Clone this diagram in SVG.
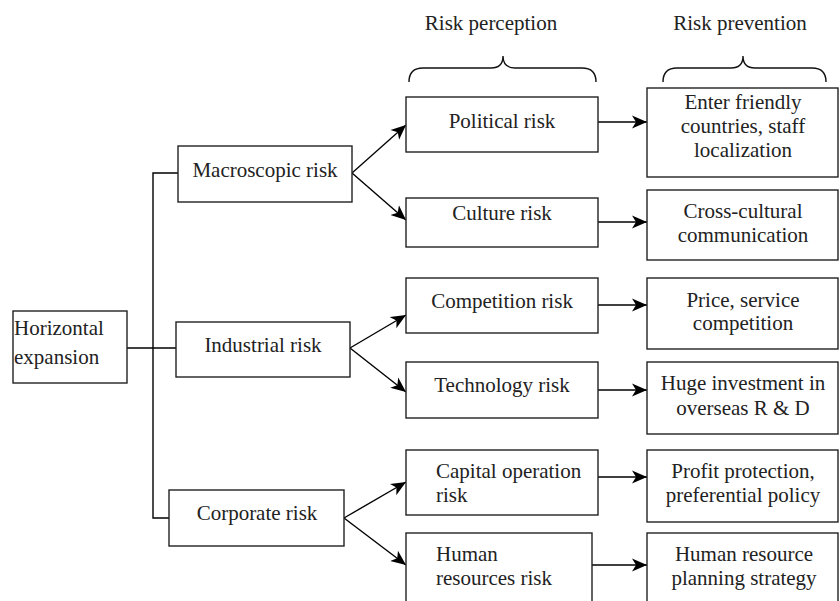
<svg xmlns="http://www.w3.org/2000/svg" width="840" height="601" viewBox="0 0 840 601">
<defs>
<style>
.box{fill:#fff;stroke:#222;stroke-width:1.4}
.t{font-family:"Liberation Serif","Times New Roman",serif;font-size:21px;fill:#222}
.c{text-anchor:middle}
.ln{fill:none;stroke:#000;stroke-width:1.4}
.br{fill:none;stroke:#111;stroke-width:1.4}
</style>
<marker id="ah" markerUnits="userSpaceOnUse" markerWidth="16" markerHeight="14" refX="15" refY="7" orient="auto">
<path d="M0,0.5 L15,7 L0,13.5 L4,7 Z" fill="#000"/>
</marker>
</defs>
<rect width="840" height="601" fill="#fff"/>
<text class="t c" x="491" y="30">Risk perception</text>
<text class="t c" x="740" y="30">Risk prevention</text>
<path class="br" d="M409,82 Q409,68 423,68 L491,68 Q503,68 503,56 Q503,68 515,68 L582,68 Q596,68 596,82"/>
<path class="br" d="M663,82 Q663,68 677,68 L731,68 Q743,68 743,56 Q743,68 755,68 L812,68 Q826,68 826,82"/>
<g id="connectors">
<path class="ln" d="M127,348 L176,348"/>
<path class="ln" d="M178,173 L153,173 L153,518 L169,518"/>
<path class="ln" d="M352,173 L406,125" marker-end="url(#ah)"/>
<path class="ln" d="M352,173 L406,220" marker-end="url(#ah)"/>
<path class="ln" d="M350,348 L406,315" marker-end="url(#ah)"/>
<path class="ln" d="M350,348 L406,392" marker-end="url(#ah)"/>
<path class="ln" d="M344,518 L406,482" marker-end="url(#ah)"/>
<path class="ln" d="M344,518 L406,565" marker-end="url(#ah)"/>
<path class="ln" d="M598,122 L647,122" marker-end="url(#ah)"/>
<path class="ln" d="M598,222 L647,222" marker-end="url(#ah)"/>
<path class="ln" d="M598,305 L647,305" marker-end="url(#ah)"/>
<path class="ln" d="M598,390 L647,390" marker-end="url(#ah)"/>
<path class="ln" d="M598,477 L647,477" marker-end="url(#ah)"/>
<path class="ln" d="M590,565 L647,565" marker-end="url(#ah)"/>
</g>
<g id="horizontal-expansion">
<rect class="box" x="13" y="311" width="114" height="72"/>
<text class="t" x="14" y="335">Horizontal</text>
<text class="t" x="14" y="364">expansion</text>
</g>
<g id="macroscopic-risk">
<rect class="box" x="178" y="146" width="174" height="56"/>
<text class="t c" x="265" y="177">Macroscopic risk</text>
</g>
<g id="industrial-risk">
<rect class="box" x="176" y="322" width="174" height="55"/>
<text class="t c" x="263" y="352">Industrial risk</text>
</g>
<g id="corporate-risk">
<rect class="box" x="169" y="490" width="175" height="56"/>
<text class="t c" x="257" y="520">Corporate risk</text>
</g>
<g id="political-risk">
<rect class="box" x="406" y="97" width="192" height="55"/>
<text class="t c" x="502" y="128">Political risk</text>
</g>
<g id="culture-risk">
<rect class="box" x="406" y="198" width="192" height="49"/>
<text class="t c" x="502" y="220">Culture risk</text>
</g>
<g id="competition-risk">
<rect class="box" x="406" y="278" width="192" height="55"/>
<text class="t c" x="502" y="308">Competition risk</text>
</g>
<g id="technology-risk">
<rect class="box" x="406" y="362" width="192" height="56"/>
<text class="t c" x="502" y="392">Technology risk</text>
</g>
<g id="capital-operation-risk">
<rect class="box" x="406" y="450" width="192" height="65"/>
<text class="t" x="436" y="478">Capital operation</text>
<text class="t" x="436" y="502">risk</text>
</g>
<g id="human-resources-risk">
<rect class="box" x="406" y="533" width="186" height="75"/>
<text class="t" x="436" y="561">Human</text>
<text class="t" x="436" y="585">resources risk</text>
</g>
<g id="enter-friendly">
<rect class="box" x="647" y="88" width="191" height="89"/>
<text class="t c" x="743" y="109">Enter friendly</text>
<text class="t c" x="743" y="133">countries, staff</text>
<text class="t c" x="743" y="157">localization</text>
</g>
<g id="cross-cultural">
<rect class="box" x="647" y="190" width="191" height="70"/>
<text class="t c" x="743" y="218">Cross-cultural</text>
<text class="t c" x="743" y="242">communication</text>
</g>
<g id="price-service">
<rect class="box" x="647" y="278" width="191" height="71"/>
<text class="t c" x="743" y="307">Price, service</text>
<text class="t c" x="743" y="330">competition</text>
</g>
<g id="huge-investment">
<rect class="box" x="647" y="362" width="191" height="72"/>
<text class="t c" x="743" y="390">Huge investment in</text>
<text class="t c" x="743" y="415">overseas R &amp; D</text>
</g>
<g id="profit-protection">
<rect class="box" x="647" y="450" width="191" height="72"/>
<text class="t c" x="743" y="478">Profit protection,</text>
<text class="t c" x="743" y="502">preferential policy</text>
</g>
<g id="human-resource-planning">
<rect class="box" x="647" y="533" width="191" height="75"/>
<text class="t c" x="744" y="561">Human resource</text>
<text class="t c" x="744" y="585">planning strategy</text>
</g>
</svg>
